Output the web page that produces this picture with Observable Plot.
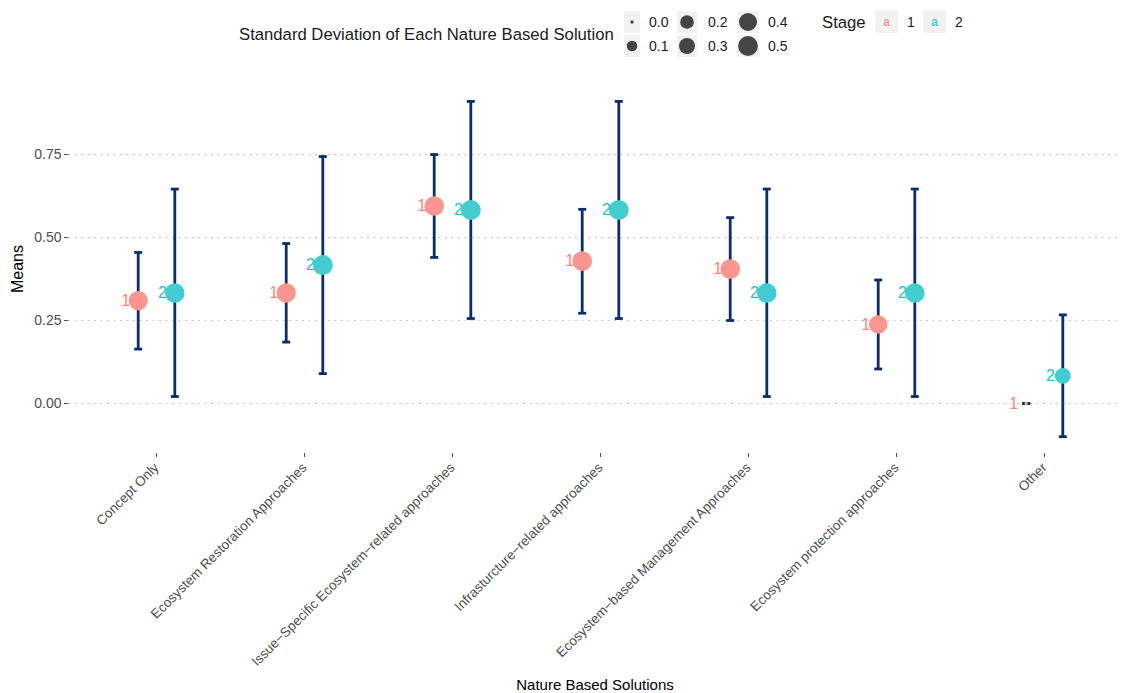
<!DOCTYPE html>
<html>
<head>
<meta charset="utf-8">
<script src="https://cdn.jsdelivr.net/npm/d3@7"></script>
<script src="https://cdn.jsdelivr.net/npm/@observablehq/plot@0.6"></script>
<style>
  html, body { margin: 0; padding: 0; background: #ffffff; }
  #wrap { position: relative; width: 1121px; height: 693px; font-family: "Liberation Sans", Arial, sans-serif; }
  #legend { position: absolute; left: 0; top: 0; }
</style>
</head>
<body>
<div id="wrap"></div>
<script>
// ---------- data ----------
const categories = [
  "Concept Only",
  "Ecosystem Restoration Approaches",
  "Issue\u2212Specific Ecosystem\u2212related approaches",
  "Infrasturcture\u2212related approaches",
  "Ecosystem\u2212based Management Approaches",
  "Ecosystem protection approaches",
  "Other"
];
const stages = ["1", "2"];

const stage1Means = [0.310, 0.333, 0.595, 0.429, 0.405, 0.238, 0.000];
const stage1Lower = [0.164, 0.185, 0.440, 0.272, 0.250, 0.104, 0.000];
const stage1Upper = [0.455, 0.482, 0.750, 0.585, 0.560, 0.372, 0.000];
const stage1SD    = [0.468, 0.477, 0.497, 0.501, 0.497, 0.431, 0.000];

const stage2Means = [0.333, 0.417, 0.583, 0.583, 0.333, 0.333, 0.083];
const stage2Lower = [0.021, 0.090, 0.256, 0.256, 0.021, 0.021, -0.100];
const stage2Upper = [0.646, 0.744, 0.910, 0.910, 0.646, 0.646, 0.267];
const stage2SD    = [0.492, 0.515, 0.515, 0.515, 0.492, 0.492, 0.289];

const yTicks = [0, 0.25, 0.5, 0.75];
const sizeBreaks = [0.0, 0.1, 0.2, 0.3, 0.4, 0.5];

// ---------- styles ----------
const navy = "#0b2e6b";
const pointFill = {"1": "#f9968f", "2": "#43cdd1"};
const labelFill = {"1": "#f7857d", "2": "#1cc3c8"};
const keyText = {"1": "#f8766d", "2": "#00bfc4"};
const dodge = {"1": -18.3, "2": 18.3};

// ---------- table ----------
const series = {
  "1": {m: stage1Means, lo: stage1Lower, hi: stage1Upper, sd: stage1SD},
  "2": {m: stage2Means, lo: stage2Lower, hi: stage2Upper, sd: stage2SD}
};
const rows = [];
categories.forEach((c, i) => {
  stages.forEach(s => {
    rows.push({cat: c, stage: s, mean: series[s].m[i], lo: series[s].lo[i], hi: series[s].hi[i], sd: series[s].sd[i]});
  });
});

const capSymbol = {
  draw(context, size) {
    const w = Math.sqrt(size / Math.PI);
    context.moveTo(-w, 0);
    context.lineTo(w, 0);
  }
};

const stageMarks = stages.flatMap(s => {
  const d = rows.filter(r => r.stage === s);
  return [
    Plot.ruleX(d, {x: "cat", y1: "lo", y2: "hi", dx: dodge[s], stroke: navy, strokeWidth: 2.8}),
    Plot.dot(d, {x: "cat", y: "lo", dx: dodge[s], symbol: capSymbol, r: 4, fill: "none", stroke: navy, strokeWidth: 2.8}),
    Plot.dot(d, {x: "cat", y: "hi", dx: dodge[s], symbol: capSymbol, r: 4, fill: "none", stroke: navy, strokeWidth: 2.8})
  ];
});
const labelMarks = stages.map(s => Plot.text(rows.filter(r => r.stage === s), {
  x: "cat", y: "mean", text: "stage", dx: dodge[s] - 8, textAnchor: "end",
  fill: labelFill[s], fontSize: 16
}));
const pointMarks = stages.map(s => Plot.dot(rows.filter(r => r.stage === s), {
  x: "cat", y: "mean", r: "sd", dx: dodge[s], fill: pointFill[s], stroke: "none"
}));

const maxSD = d3.max(rows, r => r.sd);

const chart = Plot.plot({
  width: 1121,
  height: 693,
  marginLeft: 68,
  marginRight: 0,
  marginTop: 84,
  marginBottom: 240,
  style: {fontFamily: "Liberation Sans, Arial, sans-serif", background: "white"},
  x: {type: "point", domain: categories, range: [155, 1045], padding: 0, align: 0.5},
  y: {domain: [-0.1506, 0.961], label: "Means", labelArrow: "none"},
  r: {type: "sqrt", domain: [0, maxSD], range: [1.67, 10]},
  marks: [
    Plot.ruleY(yTicks, {stroke: "#c4c4c4", strokeWidth: 1.2, strokeDasharray: "2,4.5"}),
    ...stageMarks,
    ...labelMarks,
    ...pointMarks,
    Plot.axisY(yTicks, {tickSize: 4, tickPadding: 3, tickFormat: d3.format(".2f"), fontSize: 14, color: "#4d4d4d", label: null}),
    Plot.axisY([], {label: "Means", labelArrow: "none", labelAnchor: "center", labelOffset: 57, fontSize: 16, color: "black"}),
    Plot.axisX({tickSize: 4, tickRotate: -45, fontSize: 13.5, color: "#4d4d4d", label: null}),
    Plot.axisX([], {label: "Nature Based Solutions", labelArrow: "none", labelAnchor: "center", labelOffset: 236, dx: -8, fontSize: 15, color: "black"})
  ]
});

const wrap = document.getElementById("wrap");
wrap.appendChild(chart);

// ---------- legend (above the panel) ----------
const rScale = chart.scale("r");
const lg = d3.create("svg")
  .attr("id", "legend")
  .attr("width", 1121)
  .attr("height", 70)
  .style("font-family", "Liberation Sans, Arial, sans-serif");

lg.append("text").attr("x", 239).attr("y", 34).attr("dy", "0.35em")
  .attr("font-size", 16.7).attr("fill", "#1a1a1a")
  .text("Standard Deviation of Each Nature Based Solution");

const colCx = [632, 687, 748];
const colW = [16, 20, 22];
const colLabelX = [649, 708, 768];
const rowCy = [22, 46];
sizeBreaks.forEach((v, i) => {
  const col = Math.floor(i / 2), row = i % 2;
  lg.append("rect").attr("x", colCx[col] - colW[col] / 2).attr("y", rowCy[row] - 11)
    .attr("width", colW[col]).attr("height", 22).attr("fill", "#f2f2f2");
  lg.append("circle").attr("cx", colCx[col]).attr("cy", rowCy[row])
    .attr("r", rScale.apply(v)).attr("fill", "#454545");
  lg.append("text").attr("x", colLabelX[col]).attr("y", rowCy[row]).attr("dy", "0.35em")
    .attr("font-size", 14).attr("fill", "#1a1a1a").text(d3.format(".1f")(v));
});

lg.append("text").attr("x", 822).attr("y", 22).attr("dy", "0.35em")
  .attr("font-size", 16.7).attr("fill", "#1a1a1a").text("Stage");
const stageKeyX = [875, 923];
const stageLabelX = [907, 955];
stages.forEach((s, i) => {
  lg.append("rect").attr("x", stageKeyX[i]).attr("y", 10).attr("width", 23).attr("height", 23).attr("fill", "#f2f2f2");
  lg.append("text").attr("x", stageKeyX[i] + 11.5).attr("y", 22).attr("dy", "0.35em")
    .attr("text-anchor", "middle").attr("font-size", 12).attr("font-weight", "bold")
    .attr("fill", keyText[s]).attr("fill-opacity", 0.75).text("a");
  lg.append("text").attr("x", stageLabelX[i]).attr("y", 22).attr("dy", "0.35em")
    .attr("font-size", 14).attr("fill", "#1a1a1a").text(s);
});
wrap.appendChild(lg.node());
</script>
</body>
</html>
